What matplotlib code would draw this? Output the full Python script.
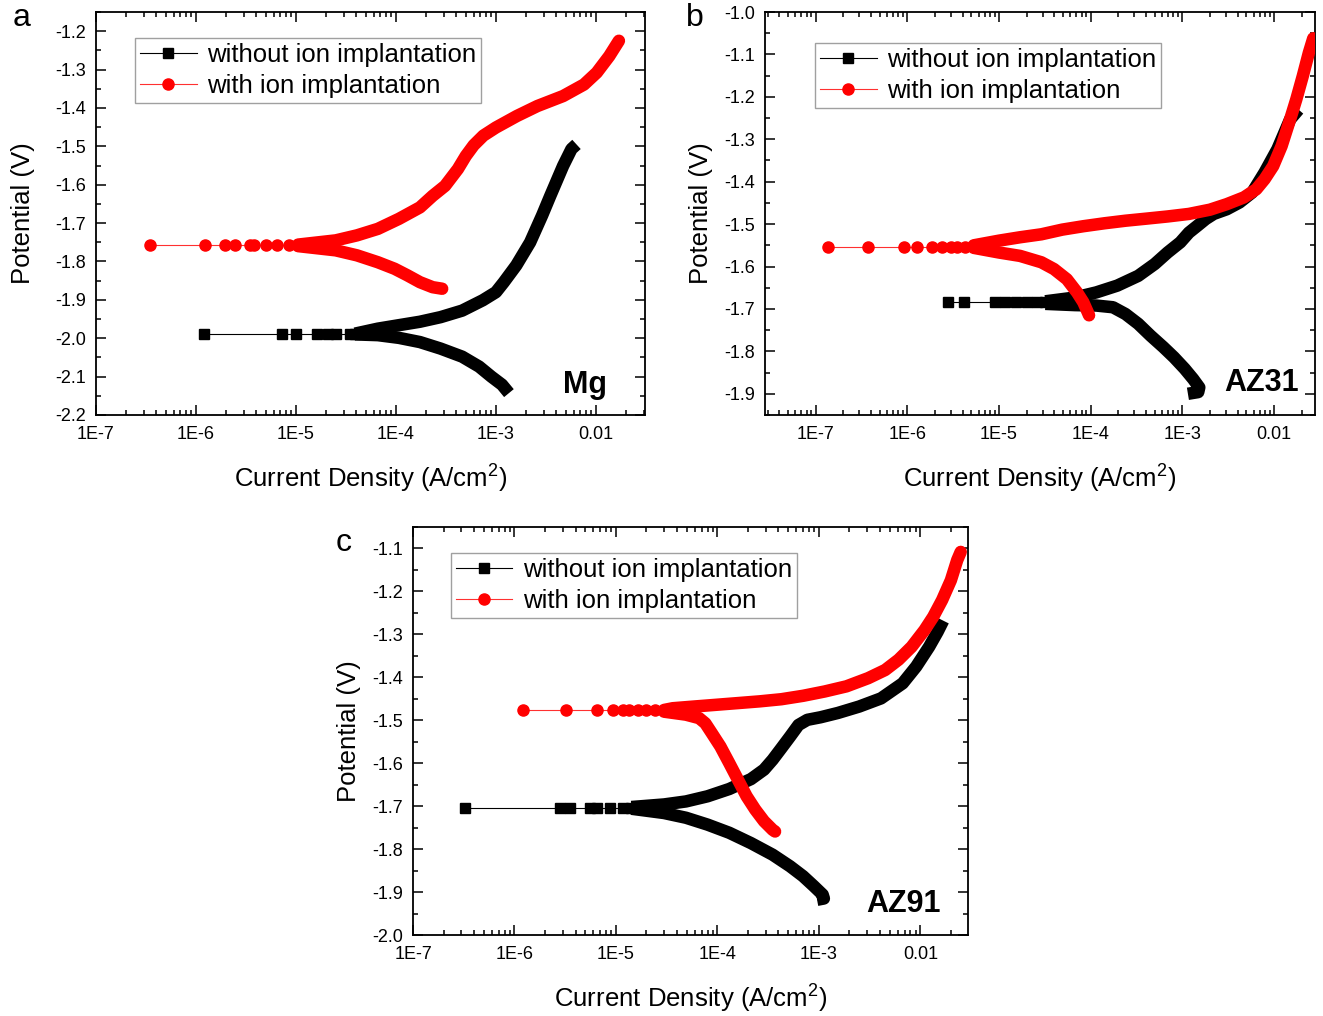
import matplotlib
matplotlib.use("Agg")
import matplotlib.pyplot as plt
from matplotlib.ticker import FixedLocator, FixedFormatter, LogLocator, MultipleLocator, NullFormatter, FuncFormatter

plt.rcParams['font.family'] = ['Liberation Sans', 'DejaVu Sans']
plt.rcParams['axes.unicode_minus'] = False
plt.rcParams['mathtext.fontset'] = 'custom'
plt.rcParams['mathtext.rm'] = 'Liberation Sans'

# ---- data ----
# panel a: Mg
a_k_sparse_x = [1.2e-6, 7.3e-6, 1.0e-5, 1.62e-5, 2.1e-5, 2.5e-5, 3.5e-5, 3.9e-5]
a_k_sparse_y = [-1.988] * 8
a_k_anod_x = [3.9e-5, 6.6e-5, 1.07e-4, 1.74e-4, 2.8e-4, 4.6e-4, 7.4e-4, 1.0e-3, 1.2e-3, 1.6e-3,
              2.2e-3, 2.9e-3, 3.5e-3, 4.7e-3, 5.7e-3, 6.4e-3]
a_k_anod_y = [-1.988, -1.975, -1.966, -1.957, -1.945, -1.928, -1.901, -1.880, -1.854, -1.810,
              -1.750, -1.680, -1.629, -1.551, -1.507, -1.495]
a_k_cath_x = [3.9e-5, 6.6e-5, 1.07e-4, 1.74e-4, 2.8e-4, 4.6e-4, 6.8e-4, 9.0e-4, 1.15e-3, 1.35e-3]
a_k_cath_y = [-1.990, -1.992, -1.999, -2.010, -2.027, -2.048, -2.074, -2.100, -2.121, -2.143]
a_r_sparse_x = [3.46e-7, 1.22e-6, 1.96e-6, 2.45e-6, 3.5e-6, 3.8e-6, 4.97e-6, 6.4e-6, 8.6e-6, 1.05e-5]
a_r_sparse_y = [-1.758] * 10
a_r_anod_x = [1.05e-5, 2.5e-5, 4.07e-5, 6.6e-5, 1.07e-4, 1.74e-4, 2.33e-4, 3.1e-4, 4.17e-4, 5.0e-4,
              6.0e-4, 7.5e-4, 1.0e-3, 1.62e-3, 2.6e-3, 4.7e-3, 7.6e-3, 1.02e-2, 1.36e-2, 1.7e-2]
a_r_anod_y = [-1.756, -1.745, -1.732, -1.715, -1.689, -1.659, -1.629, -1.603, -1.559, -1.525,
              -1.497, -1.472, -1.451, -1.421, -1.395, -1.369, -1.339, -1.308, -1.265, -1.225]
a_r_cath_x = [1.05e-5, 2.5e-5, 4.07e-5, 6.6e-5, 9.7e-5, 1.3e-4, 1.74e-4, 2.33e-4, 2.9e-4]
a_r_cath_y = [-1.760, -1.771, -1.784, -1.802, -1.819, -1.836, -1.854, -1.867, -1.871]

# panel b: AZ31
b_k_sparse_x = [2.8e-6, 4.2e-6, 9.0e-6, 1.17e-5, 1.53e-5, 2.0e-5, 2.6e-5, 3.2e-5]
b_k_sparse_y = [-1.684] * 8
b_k_anod_x = [3.2e-5, 6.75e-5, 1.15e-4, 1.95e-4, 3.3e-4, 5.0e-4, 6.9e-4, 9.5e-4, 1.18e-3, 1.46e-3,
              1.8e-3, 2.2e-3, 3.05e-3, 4.2e-3, 5.8e-3, 7.9e-3, 1.09e-2, 1.5e-2, 1.85e-2]
b_k_anod_y = [-1.682, -1.673, -1.661, -1.645, -1.622, -1.594, -1.567, -1.543, -1.520, -1.504,
              -1.488, -1.476, -1.465, -1.449, -1.425, -1.378, -1.323, -1.253, -1.230]
b_k_cath_x = [3.2e-5, 6.75e-5, 1.15e-4, 1.75e-4, 2.4e-4, 3.3e-4, 4.5e-4, 6.2e-4, 8.1e-4, 1.06e-3,
              1.31e-3, 1.53e-3, 1.49e-3, 1.15e-3]
b_k_cath_y = [-1.688, -1.691, -1.692, -1.696, -1.712, -1.735, -1.763, -1.790, -1.814, -1.841,
              -1.865, -1.885, -1.896, -1.900]
b_r_sparse_x = [1.35e-7, 3.76e-7, 9.2e-7, 1.27e-6, 1.84e-6, 2.4e-6, 2.97e-6, 3.5e-6, 4.3e-6, 5.3e-6]
b_r_sparse_y = [-1.553] * 10
b_r_anod_x = [5.3e-6, 1.0e-5, 1.7e-5, 2.9e-5, 4.9e-5, 8.3e-5, 1.42e-4, 2.4e-4, 4.1e-4, 6.9e-4,
              1.18e-3, 2.0e-3, 3.05e-3, 4.7e-3, 6.4e-3, 7.9e-3, 9.8e-3, 1.21e-2, 1.5e-2, 1.75e-2,
              2.06e-2, 2.4e-2, 2.68e-2]
b_r_anod_y = [-1.550, -1.539, -1.531, -1.524, -1.513, -1.505, -1.498, -1.492, -1.487, -1.482,
              -1.476, -1.466, -1.453, -1.437, -1.418, -1.394, -1.363, -1.316, -1.253, -1.206,
              -1.151, -1.096, -1.062]
b_r_cath_x = [5.3e-6, 1.0e-5, 1.7e-5, 2.9e-5, 3.98e-5, 5.5e-5, 7.1e-5, 8.3e-5, 9.3e-5, 9.6e-5]
b_r_cath_y = [-1.556, -1.567, -1.575, -1.590, -1.606, -1.630, -1.661, -1.684, -1.708, -1.715]

# panel c: AZ91
c_k_sparse_x = [3.26e-7, 2.8e-6, 3.5e-6, 5.6e-6, 6.5e-6, 8.7e-6, 1.17e-5, 1.42e-5]
c_k_sparse_y = [-1.704] * 8
c_k_anod_x = [1.42e-5, 2.98e-5, 4.9e-5, 8.0e-5, 1.31e-4, 2.14e-4, 2.88e-4, 3.5e-4, 4.27e-4, 5.2e-4,
              6.3e-4, 7.7e-4, 1.04e-3, 1.54e-3, 2.5e-3, 4.1e-3, 6.7e-3, 9.1e-3, 1.22e-2, 1.48e-2,
              1.68e-2]
c_k_anod_y = [-1.702, -1.696, -1.689, -1.677, -1.660, -1.637, -1.615, -1.592, -1.565, -1.538,
              -1.511, -1.499, -1.493, -1.483, -1.468, -1.449, -1.414, -1.375, -1.329, -1.294,
              -1.268]
c_k_cath_x = [1.42e-5, 2.98e-5, 4.9e-5, 8.0e-5, 1.31e-4, 2.14e-4, 3.5e-4, 5.2e-4, 6.98e-4, 8.9e-4,
              1.09e-3, 1.12e-3, 9.6e-4]
c_k_cath_y = [-1.706, -1.716, -1.727, -1.743, -1.762, -1.786, -1.813, -1.840, -1.863, -1.886,
              -1.906, -1.915, -1.918]
c_r_sparse_x = [1.21e-6, 3.24e-6, 6.5e-6, 9.3e-6, 1.17e-5, 1.36e-5, 1.65e-5, 2.0e-5, 2.45e-5, 2.98e-5]
c_r_sparse_y = [-1.477] * 10
c_r_anod_x = [2.98e-5, 3.63e-5, 5.9e-5, 9.7e-5, 1.59e-4, 2.6e-4, 4.27e-4, 7.0e-4, 1.14e-3, 1.87e-3,
              3.06e-3, 4.5e-3, 6.1e-3, 8.2e-3, 1.1e-2, 1.34e-2, 1.64e-2, 2.0e-2, 2.31e-2, 2.5e-2]
c_r_anod_y = [-1.476, -1.472, -1.468, -1.464, -1.460, -1.456, -1.451, -1.443, -1.433, -1.421,
              -1.402, -1.383, -1.359, -1.329, -1.290, -1.259, -1.220, -1.174, -1.127, -1.108]
c_r_cath_x = [2.98e-5, 4.9e-5, 6.6e-5, 7.6e-5, 8.8e-5, 1.07e-4, 1.31e-4, 1.59e-4, 1.94e-4, 2.36e-4,
              2.88e-4, 3.5e-4, 3.7e-4]
c_r_cath_y = [-1.480, -1.487, -1.495, -1.507, -1.530, -1.561, -1.600, -1.638, -1.677, -1.708,
              -1.735, -1.755, -1.759]

xtick_vals = [1e-7, 1e-6, 1e-5, 1e-4, 1e-3, 1e-2]
xtick_labels = ['1E-7', '1E-6', '1E-5', '1E-4', '1E-3', '0.01']

W, H = 1323, 1016
fig = plt.figure(figsize=(W / 100, H / 100), dpi=100)


def box(l, t, r, b):
    return [l / W, 1 - b / H, (r - l) / W, (b - t) / H]


def panel(ax, k, r, xlim, ylim, yticks, name, name_xy, leg_xy, ylabelpad):
    kx, ky, kax, kay, kcx, kcy = k
    rx, ry, rax, ray, rcx, rcy = r
    # black: without ion implantation
    ax.plot(kax, kay, color='black', lw=9, solid_capstyle='butt', solid_joinstyle='round', zorder=2)
    ax.plot(kcx, kcy, color='black', lw=9, solid_capstyle='butt', solid_joinstyle='round', zorder=2)
    ax.plot(kx, ky, color='black', lw=0.8, marker='s', ms=7.5, mec='black', zorder=3,
            label='without ion implantation')
    # red: with ion implantation
    ax.plot(rax, ray, color='#ff0000', lw=9, solid_capstyle='round', solid_joinstyle='round', zorder=4)
    ax.plot(rcx, rcy, color='#ff0000', lw=9, solid_capstyle='round', solid_joinstyle='round', zorder=4)
    ax.plot(rx, ry, color='#ff3030', lw=0.8, marker='o', ms=8, mfc='#ff0000', mec='#ff0000', zorder=5,
            label='with ion implantation')

    ax.set_xscale('log')
    ax.set_xlim(*xlim)
    ax.set_ylim(*ylim)
    ax.xaxis.set_major_locator(FixedLocator(xtick_vals))
    ax.xaxis.set_major_formatter(FixedFormatter(xtick_labels))
    ax.xaxis.set_minor_locator(LogLocator(base=10, subs=range(2, 10), numticks=20))
    ax.xaxis.set_minor_formatter(NullFormatter())
    ax.yaxis.set_major_locator(FixedLocator(yticks))
    ax.yaxis.set_major_formatter(FuncFormatter(lambda v, p: '%.1f' % v))
    ax.yaxis.set_minor_locator(MultipleLocator(0.05))
    ax.tick_params(which='both', direction='in', top=True, right=True, labelsize=13, width=1.1)
    ax.tick_params(which='major', length=7)
    ax.tick_params(which='minor', length=3.5)
    ax.tick_params(axis='x', pad=8)
    ax.tick_params(axis='y', pad=7)
    for s in ax.spines.values():
        s.set_linewidth(1.3)
    ax.set_xlabel('Current Density (A/cm$^{\\mathregular{2}}$)', fontsize=18.5, labelpad=13)
    ax.set_ylabel('Potential (V)', fontsize=18.5, labelpad=ylabelpad)
    ax.text(name_xy[0], name_xy[1], name, transform=ax.transAxes, fontsize=22, fontweight='bold',
            ha='right', va='center')
    leg = ax.legend(loc='upper left', bbox_to_anchor=leg_xy, fontsize=18.5, frameon=True, fancybox=False,
                    handlelength=2.2, handletextpad=0.4, labelspacing=0.25, borderpad=0.2,
                    borderaxespad=0, edgecolor='#888888')
    leg.get_frame().set_linewidth(1.0)


yt_a = [-2.2, -2.1, -2.0, -1.9, -1.8, -1.7, -1.6, -1.5, -1.4, -1.3, -1.2]
yt_b = [-1.9, -1.8, -1.7, -1.6, -1.5, -1.4, -1.3, -1.2, -1.1, -1.0]
yt_c = [-2.0, -1.9, -1.8, -1.7, -1.6, -1.5, -1.4, -1.3, -1.2, -1.1]

ax_a = fig.add_axes(box(96, 12, 645, 415))
panel(ax_a,
      (a_k_sparse_x, a_k_sparse_y, a_k_anod_x, a_k_anod_y, a_k_cath_x, a_k_cath_y),
      (a_r_sparse_x, a_r_sparse_y, a_r_anod_x, a_r_anod_y, a_r_cath_x, a_r_cath_y),
      (1e-7, 0.031), (-2.2, -1.15), yt_a, 'Mg', (0.93, 0.075), (0.071, 0.935), 15)

ax_b = fig.add_axes(box(765, 12, 1315, 415))
panel(ax_b,
      (b_k_sparse_x, b_k_sparse_y, b_k_anod_x, b_k_anod_y, b_k_cath_x, b_k_cath_y),
      (b_r_sparse_x, b_r_sparse_y, b_r_anod_x, b_r_anod_y, b_r_cath_x, b_r_cath_y),
      (2.8e-8, 0.028), (-1.95, -1.0), yt_b, 'AZ31', (0.97, 0.08), (0.091, 0.923), 8)

ax_c = fig.add_axes(box(413, 527, 968, 935))
panel(ax_c,
      (c_k_sparse_x, c_k_sparse_y, c_k_anod_x, c_k_anod_y, c_k_cath_x, c_k_cath_y),
      (c_r_sparse_x, c_r_sparse_y, c_r_anod_x, c_r_anod_y, c_r_cath_x, c_r_cath_y),
      (1e-7, 0.0295), (-2.0, -1.05), yt_c, 'AZ91', (0.95, 0.075), (0.068, 0.936), 8)

fig.text(22 / W, 1 - 18 / H, 'a', fontsize=23, ha='center', va='center')
fig.text(695 / W, 1 - 18 / H, 'b', fontsize=23, ha='center', va='center')
fig.text(344 / W, 1 - 543 / H, 'c', fontsize=23, ha='center', va='center')

fig.savefig('out.png', dpi=100)
